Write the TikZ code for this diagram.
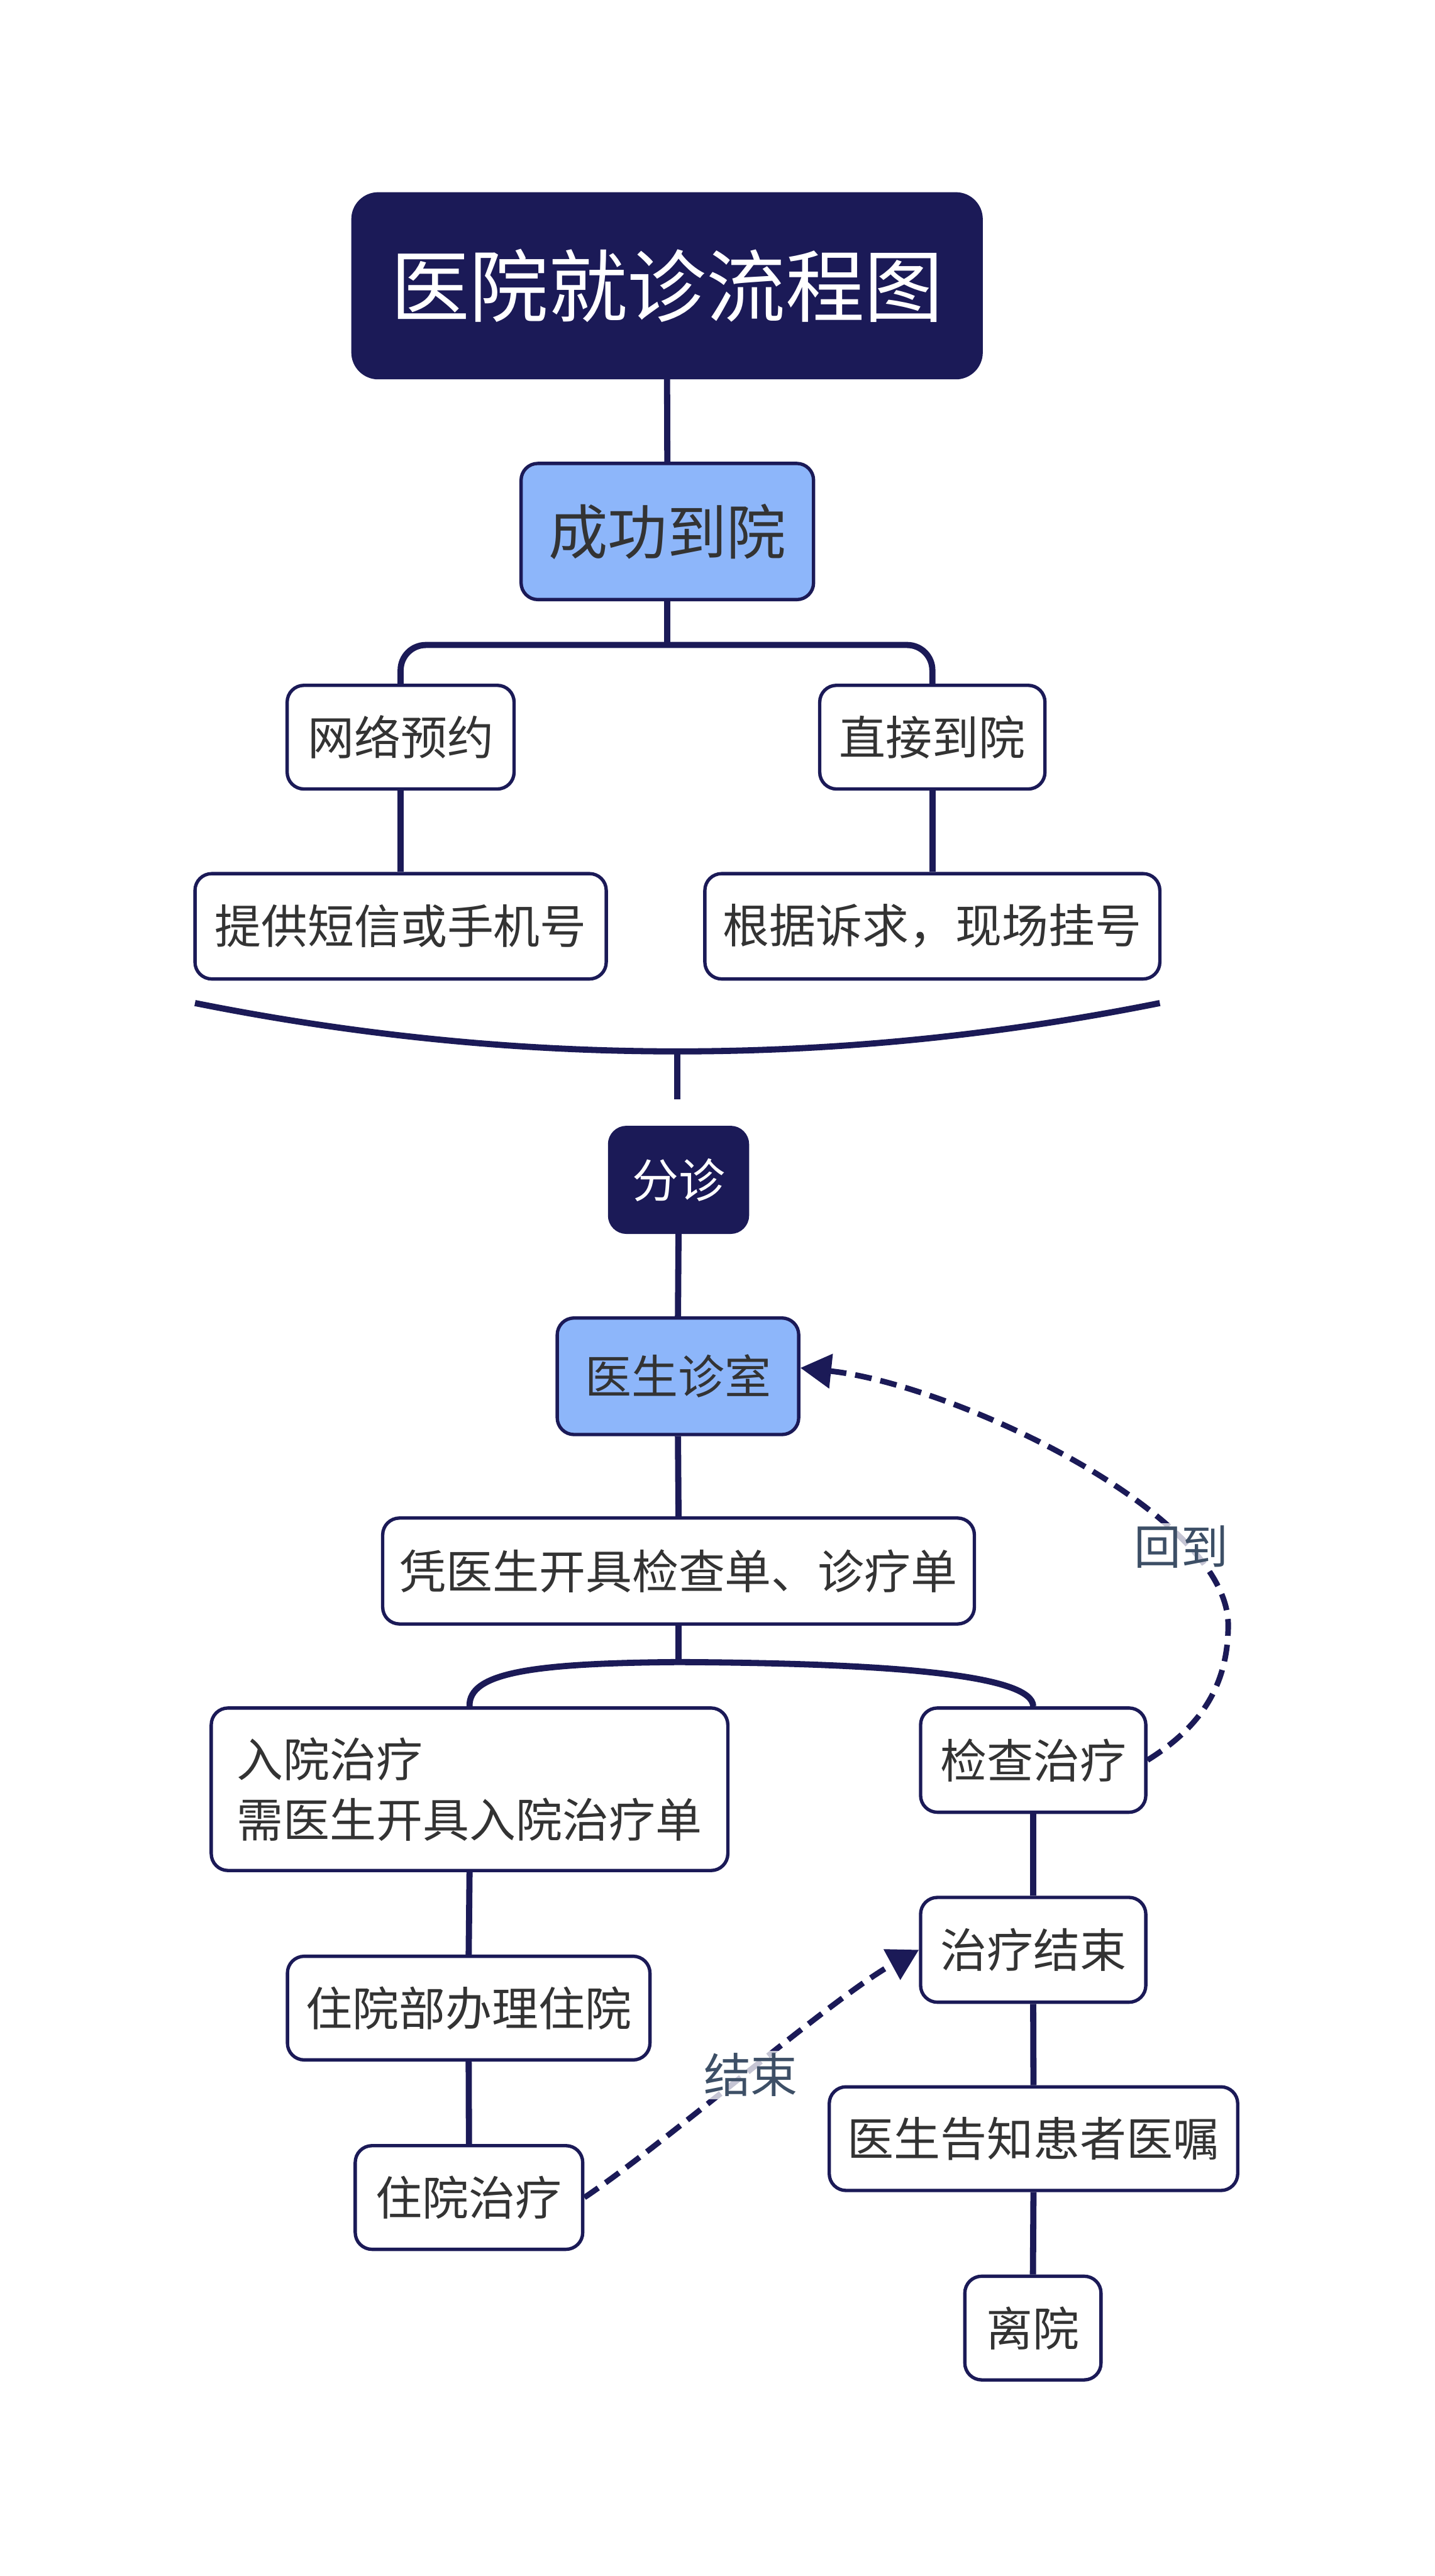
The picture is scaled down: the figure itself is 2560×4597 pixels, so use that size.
\documentclass[tikz,border=0pt]{standalone}
\usepackage{fontspec}
\setmainfont{Noto Sans CJK SC}
\usetikzlibrary{arrows.meta}
\definecolor{navy}{HTML}{1B1A57}
\definecolor{lblue}{HTML}{8DB6FA}
\definecolor{txt}{HTML}{333333}
\definecolor{lbl}{HTML}{3D4F66}
\begin{document}
\begin{tikzpicture}[x=1pt,y=-1pt,
  box/.style={draw=navy, line width=6pt, rounded corners=30pt, fill=white, text=txt,
    font=\fontsize{83}{108}\selectfont, inner sep=0pt, align=center},
  bluebox/.style={box, fill=lblue},
  darkbox/.style={box, fill=navy, text=white},
  conn/.style={draw=navy, line width=11pt},
  dasharrow/.style={draw=navy, line width=10pt, dash pattern=on 30pt off 16pt,
    -{Triangle[length=55pt,width=60pt]}},
  lblnode/.style={text=lbl, font=\fontsize{84}{100}\selectfont, fill=white,
    fill opacity=0.75, text opacity=1, inner sep=4pt}]
\useasboundingbox (0,0) rectangle (2560,4597);
\fill[white] (0,0) rectangle (2560,4597);

% nodes
\node[darkbox, rounded corners=45pt, font=\fontsize{141}{160}\selectfont,
  minimum width=1121pt, minimum height=328pt] (title) at (1190.5,510) {医院就诊流程图};
\node[bluebox, font=\fontsize{106}{120}\selectfont, minimum width=522pt, minimum height=243pt] (cg) at (1191,948.5) {成功到院};
\node[box, minimum width=405pt, minimum height=185pt] (wl) at (715,1315.5) {网络预约};
\node[box, minimum width=402pt, minimum height=185pt] (zj) at (1664,1315.5) {直接到院};
\node[box, minimum width=734pt, minimum height=188pt] (tg) at (715,1653) {提供短信或手机号};
\node[box, minimum width=812pt, minimum height=188pt] (gj) at (1664,1653) {根据诉求，现场挂号};
\node[darkbox, minimum width=246pt, minimum height=187pt] (fz) at (1211,2105.5) {分诊};
\node[bluebox, minimum width=431pt, minimum height=208pt] (ys) at (1210,2456) {医生诊室};
\node[box, minimum width=1056pt, minimum height=189pt] (pz) at (1211,2803.5) {凭医生开具检查单、诊疗单};
\node[box, align=left, minimum width=922pt, minimum height=290pt] (ry) at (838,3193) {入院治疗\\需医生开具入院治疗单};
\node[box, minimum width=402pt, minimum height=186pt] (jc) at (1844,3141) {检查治疗};
\node[box, minimum width=647pt, minimum height=185pt] (bl) at (836.5,3583.5) {住院部办理住院};
\node[box, minimum width=406pt, minimum height=185pt] (zy) at (837,3921.5) {住院治疗};
\node[box, minimum width=402pt, minimum height=187pt] (zl) at (1844,3479.5) {治疗结束};
\node[box, minimum width=729pt, minimum height=185pt] (gz) at (1844.5,3816.5) {医生告知患者医嘱};
\node[box, minimum width=243pt, minimum height=185pt] (ly) at (1843.5,4154.5) {离院};

% connectors
\draw[conn] (title.south) -- (cg.north);
\draw[conn] (cg.south) -- ++(0,78) coordinate (b1);
\draw[conn, rounded corners=45pt] (wl.north) |- (b1) -| (zj.north);
\draw[conn] (wl.south) -- (tg.north);
\draw[conn] (zj.south) -- (gj.north);

\coordinate (arcL) at (348,1790);
\coordinate (arcR) at (2070,1790);
\coordinate (arcB) at (1209,1876);
\coordinate (arcE) at (1209,1962);
\draw[conn] (arcL) .. controls (922,1905) and (1496,1905) .. (arcR);
\draw[conn] (arcB) -- (arcE);

\draw[conn] (fz.south) -- (ys.north);
\draw[conn] (ys.south) -- (pz.north);
\draw[conn] (pz.south) -- ++(0,65) coordinate (b2);
\draw[conn] (ry.north) .. controls (836,2985) and (950,2968) .. (b2)
  .. controls (1600,2968) and (1843,2990) .. (jc.north);
\draw[conn] (ry.south) -- (bl.north);
\draw[conn] (bl.south) -- (zy.north);
\draw[conn] (jc.south) -- (zl.north);
\draw[conn] (zl.south) -- (gz.north);
\draw[conn] (gz.south) -- (ly.north);

% dashed arrows
\draw[dasharrow] (jc.east) .. controls (2130,3090) and (2192,3020) .. (2192,2900)
  .. controls (2192,2700) and (1700,2470) .. ([yshift=15pt]ys.east);
\draw[dasharrow] (zy.east) .. controls (1191,3822) and (1489,3562) .. (zl.west);

\node[lblnode] (l1) at (2108,2760) {回到};
\node[lblnode] (l2) at (1340,3703) {结束};
\end{tikzpicture}
\end{document}
